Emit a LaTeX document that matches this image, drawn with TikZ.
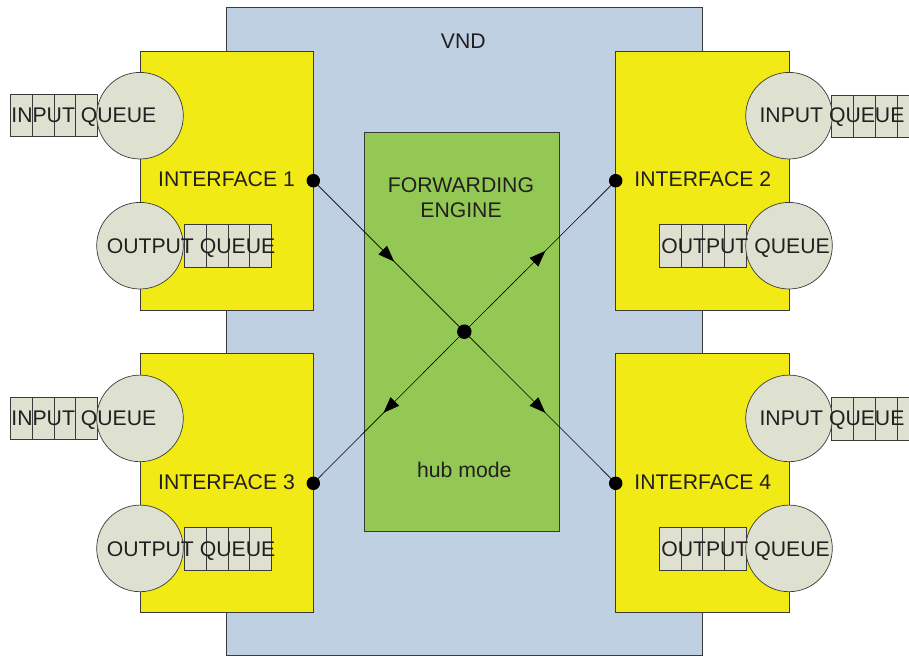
\documentclass[tikz,border=0pt]{standalone}
\usepackage{fontspec}
\setmainfont{Liberation Sans}
\usetikzlibrary{arrows.meta,decorations.markings}
\definecolor{vndblue}{HTML}{BFD0E2}
\definecolor{ifyellow}{HTML}{F2EA14}
\definecolor{fegreen}{HTML}{92C853}
\definecolor{qgray}{HTML}{DEE1CF}
\definecolor{edgegray}{HTML}{3A3A3A}
\definecolor{ink}{HTML}{231F20}
\begin{document}
\begin{tikzpicture}[x=1pt,y=-1pt,
 box/.style={draw=edgegray,line width=0.7pt,inner sep=0pt,rectangle},
 vndbox/.style={box,fill=vndblue,minimum width=476pt,minimum height=648.7pt},
 ifbox/.style={box,fill=ifyellow,minimum width=173.5pt,minimum height=259pt},
 febox/.style={box,fill=fegreen,minimum width=194.6pt,minimum height=399pt},
 cell/.style={box,fill=qgray,minimum width=21.8pt,minimum height=42.4pt,anchor=west},
 qcircle/.style={circle,draw=edgegray,line width=0.7pt,fill=qgray,minimum size=86.6pt,inner sep=0pt},
 lbl/.style={text=ink,font=\fontsize{21.2}{25}\selectfont,anchor=base,inner sep=0pt},
 port/.style={circle,fill=black,minimum size=13.5pt,inner sep=0pt},
 hubdot/.style={circle,fill=black,minimum size=14.5pt,inner sep=0pt},
 flow/.style={line width=0.6pt,postaction={decorate},decoration={markings,mark=at position 0.535 with {\arrow{Triangle[length=16pt,width=12pt]}}}}
]
\useasboundingbox (0,0) rectangle (909,658);
\clip (0,0) rectangle (909,658);
% VND
\node[vndbox] (vnd) at (464.3,331.3) {};
% interfaces
\node[ifbox] (if1) at (227,180.5) {};
\node[ifbox] (if2) at (702.3,180.5) {};
\node[ifbox] (if3) at (227,483.2) {};
\node[ifbox] (if4) at (702.3,483.2) {};
% forwarding engine
\node[febox] (fe) at (462,331.5) {};
% ports and hub
\node[port] (p1) at (313.3,180.7) {};
\node[port] (p2) at (615.7,180.7) {};
\node[port] (p3) at (313.3,483.3) {};
\node[port] (p4) at (615.7,483.3) {};
\node[hubdot] (hub) at (464.3,331.7) {};
\draw[flow] (p1.center) -- (hub.center);
\draw[flow] (hub.center) -- (p2.center);
\draw[flow] (hub.center) -- (p3.center);
\draw[flow] (hub.center) -- (p4.center);
% queues (cells)
\foreach \i in {0,1,2,3} {
  \node[cell] (inqa\i) at (10+21.8*\i,115.5) {};
  \node[cell] (outqa\i) at (184+21.8*\i,246) {};
  \node[cell] (inqb\i) at (831.3+21.8*\i,116.5) {};
  \node[cell] (outqb\i) at (658.7+21.8*\i,246) {};
  \node[cell] (inqc\i) at (10+21.8*\i,418.5) {};
  \node[cell] (outqc\i) at (184+21.8*\i,549) {};
  \node[cell] (inqd\i) at (831.3+21.8*\i,419) {};
  \node[cell] (outqd\i) at (658.7+21.8*\i,549) {};
}
% circles
\node[qcircle] (inca) at (140,115.7) {};
\node[qcircle] (outca) at (140,245.7) {};
\node[qcircle] (incb) at (789,115.7) {};
\node[qcircle] (outcb) at (789,245.7) {};
\node[qcircle] (incc) at (140,418.4) {};
\node[qcircle] (outcc) at (140,548.4) {};
\node[qcircle] (incd) at (789,418.4) {};
\node[qcircle] (outcd) at (789,548.4) {};
% labels
\node[lbl] (tvnd) at (463.3,48.3) {VND};
\node[lbl] (tfe1) at (461,192.5) {FORWARDING};
\node[lbl] (tfe2) at (461,217.5) {ENGINE};
\node[lbl] (thub) at (464.3,477.3) {hub mode};
\node[lbl] (tif1) at (226.5,186.7) {INTERFACE 1};
\node[lbl] (tif2) at (702.8,186.7) {INTERFACE 2};
\node[lbl] (tif3) at (226.5,489.6) {INTERFACE 3};
\node[lbl] (tif4) at (702.8,489.6) {INTERFACE 4};
\node[lbl] (tina) at (83.8,122.3) {INPUT QUEUE};
\node[lbl] (touta) at (191,253.3) {OUTPUT QUEUE};
\node[lbl] (tinb) at (832,122.3) {INPUT QUEUE};
\node[lbl] (toutb) at (745.5,253.3) {OUTPUT QUEUE};
\node[lbl] (tinc) at (83.8,425) {INPUT QUEUE};
\node[lbl] (toutc) at (191,556) {OUTPUT QUEUE};
\node[lbl] (tind) at (832,425) {INPUT QUEUE};
\node[lbl] (toutd) at (745.5,556) {OUTPUT QUEUE};
\end{tikzpicture}
\end{document}
